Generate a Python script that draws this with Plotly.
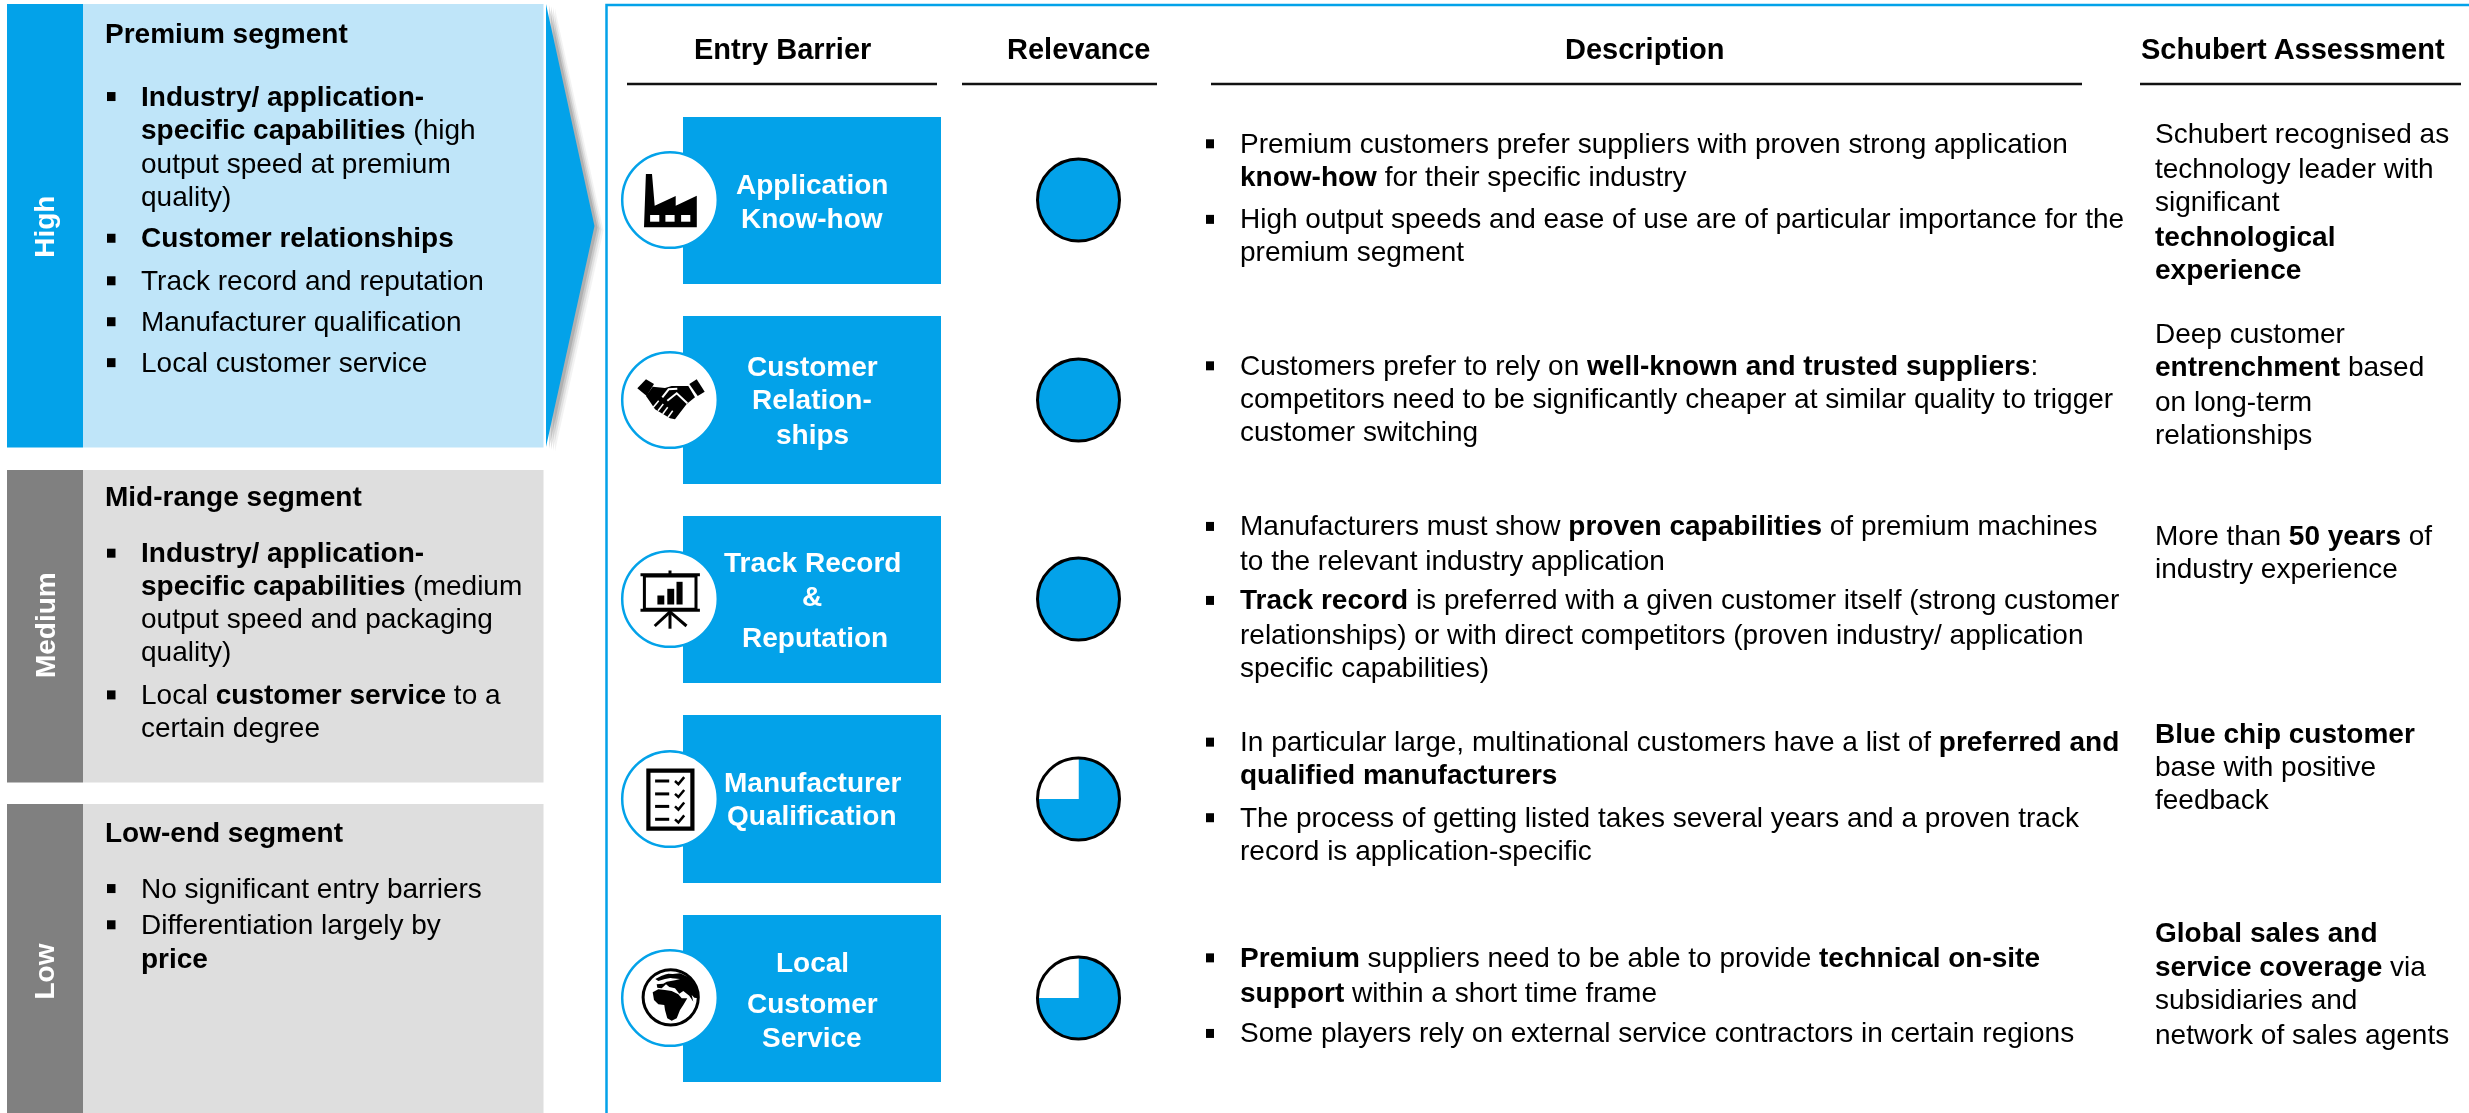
import plotly.graph_objects as go

W, H = 2469, 1113
BLUE = "#03A2E9"
LIGHT = "#BFE5F9"
TAB_GREY = "#808080"
GREY = "#DEDEDE"
FONT = "Liberation Sans"
S = 1.5746  # positions below were read on the 1568-wide view

# ---------- data ----------
barriers = ["Application Know-how", "Customer Relationships", "Track Record & Reputation",
            "Manufacturer Qualification", "Local Customer Service"]
relevance = [100, 100, 100, 75, 75]
headers = ["Entry Barrier", "Relevance", "Description", "Schubert Assessment"]
levels = ["High", "Medium", "Low"]
panel_text = [
    "<b>Premium segment</b>",
    "<b>Industry/ application-</b>", "<b>specific capabilities</b> (high", "output speed at premium", "quality)",
    "<b>Customer relationships</b>", "Track record and reputation", "Manufacturer qualification",
    "Local customer service",
    "<b>Mid-range segment</b>",
    "<b>Industry/ application-</b>", "<b>specific capabilities</b> (medium", "output speed and packaging", "quality)",
    "Local <b>customer service</b> to a", "certain degree",
    "<b>Low-end segment</b>",
    "No significant entry barriers", "Differentiation largely by", "<b>price</b>",
]
box_text = ["Application", "Know-how", "Customer", "Relation-", "ships", "Track Record", "&", "Reputation",
            "Manufacturer", "Qualification", "Local", "Customer", "Service"]
description_text = [
    "Premium customers prefer suppliers with proven strong application",
    "<b>know-how</b> for their specific industry",
    "High output speeds and ease of use are of particular importance for the",
    "premium segment",
    "Customers prefer to rely on <b>well-known and trusted suppliers</b>:",
    "competitors need to be significantly cheaper at similar quality to trigger",
    "customer switching",
    "Manufacturers must show <b>proven capabilities</b> of premium machines",
    "to the relevant industry application",
    "<b>Track record</b> is preferred with a given customer itself (strong customer",
    "relationships) or with direct competitors (proven industry/ application",
    "specific capabilities)",
    "In particular large, multinational customers have a list of <b>preferred and</b>",
    "<b>qualified manufacturers</b>",
    "The process of getting listed takes several years and a proven track",
    "record is application-specific",
    "<b>Premium</b> suppliers need to be able to provide <b>technical on-site</b>",
    "<b>support</b> within a short time frame",
    "Some players rely on external service contractors in certain regions",
]
assessment_text = [
    "Schubert recognised as", "technology leader with", "significant", "<b>technological</b>", "<b>experience</b>",
    "Deep customer", "<b>entrenchment</b> based", "on long-term", "relationships",
    "More than <b>50 years</b> of", "industry experience",
    "<b>Blue chip customer</b>", "base with positive", "feedback",
    "<b>Global sales and</b>", "<b>service coverage</b> via", "subsidiaries and", "network of sales agents",
]

# ---------- layout positions ----------
panel_y = [21, 61, 82, 104, 125, 151, 178, 204, 230, 315, 351, 372, 393, 414, 441, 462, 529, 564, 587, 609]
panel_head = {0, 9, 16}
panel_bullets = [61, 151, 178, 204, 230, 351, 441, 564, 587]
box_y = [117, 139, 233, 254, 276, 357, 379, 405, 497, 518, 611, 637, 659]
box_dx = [0, 0, 0, 0, 0, 0, 0, 3, 0, 0, 0, 0, 0]
desc_y = [91, 112, 139, 160, 232, 253, 274, 334, 356, 381, 403, 424, 471, 492, 519, 540, 608, 630, 656]
desc_bullets = [91, 139, 232, 334, 381, 471, 519, 608, 656]
assess_y = [85, 107, 128, 150, 171, 212, 233, 255, 276, 340, 361, 466, 487, 508, 592, 614, 635, 657]
box_top = [117, 316, 516, 715, 915]
box_bot = [284, 484, 683, 883, 1082]
row_cy = [200, 400, 599, 799, 998]
ICON_X, ICON_R, PIE_X, PIE_R = 670, 47.8, 1078.5, 41

shapes, ann = [], []


def rect(x0, y0, x1, y1, fill, line=None, lw=0, layer="below"):
    shapes.append(dict(type="rect", xref="x", yref="y", x0=x0, y0=y0, x1=x1, y1=y1, fillcolor=fill,
                       line=dict(color=line or fill, width=lw), layer=layer))


def circle(cx, cy, r, fill, line, lw, layer="below"):
    shapes.append(dict(type="circle", xref="x", yref="y", x0=cx - r, y0=cy - r, x1=cx + r, y1=cy + r,
                       fillcolor=fill, line=dict(color=line, width=lw), layer=layer))


def poly(pts, fill, line=None, lw=0, opacity=1, closed=True, layer="below"):
    d = "M " + " L ".join(f"{x:.1f} {y:.1f}" for x, y in pts) + (" Z" if closed else "")
    shapes.append(dict(type="path", xref="x", yref="y", path=d, fillcolor=fill if closed else "rgba(0,0,0,0)",
                       line=dict(color=line or fill, width=lw), opacity=opacity, layer=layer))


def text(x, y, t, size, color="#000000", anchor="left", angle=0):
    ann.append(dict(x=x, y=y, xref="x", yref="y", text=t, showarrow=False, xanchor=anchor, yanchor="middle",
                    align=anchor, textangle=angle, font=dict(family=FONT, size=size, color=color)))


# left panels
panels = [(4, 447.5, BLUE, LIGHT), (470, 782.5, TAB_GREY, GREY), (804, 1113, TAB_GREY, GREY)]
for top, bot, tab, body in panels:
    rect(7, top, 83, bot, tab)
    rect(83, top, 543.5, bot, body)
for lab, y in zip(levels, [144 * S, 397 * S, 617 * S]):
    text(45, y, f"<b>{lab}</b>", 28, "#FFFFFF", "center", -90)

# chevron with soft shadow
chev = [(546, 4), (594.5, 226), (546, 447)]
for off, op in [(9, 0.08), (7, 0.12), (5, 0.18), (3, 0.24)]:
    poly([(x + off, y + off * 0.5) for x, y in chev], "#606060", opacity=op)
poly(chev, BLUE)

# frame
poly([(606.5, 1113), (606.5, 5), (2469, 5)], None, BLUE, 2.5, closed=False)

# headers
hdr_lines = [(627, 937), (962, 1157), (1211, 2082), (2140, 2461)]
hdr_x = [497 * S, 685 * S, 1045 * S, 1456 * S]
for (a, b), x, h in zip(hdr_lines, hdr_x, headers):
    poly([(a, 84), (b, 84)], None, "#111111", 2.5, closed=False)
    text(x, 48.5, f"<b>{h}</b>", 29, anchor="center")

# panel text
for i, (t, y) in enumerate(zip(panel_text, panel_y)):
    text(102.5 if i in panel_head else 138.5, y * S, t, 28)
for y in panel_bullets:
    rect(107, y * S - 4, 115.5, y * S + 5, "#000000")

# entry barrier boxes
for top, bot in zip(box_top, box_bot):
    rect(683, top, 941, bot, BLUE)
for t, y, dx in zip(box_text, box_y, box_dx):
    text(812 + dx, y * S, f"<b>{t}</b>", 28, "#FFFFFF", "center")

# description and assessment text
for t, y in zip(description_text, desc_y):
    text(1237.5, y * S, t, 28)
for y in desc_bullets:
    rect(1206, y * S - 4, 1214, y * S + 5, "#000000")
for t, y in zip(assessment_text, assess_y):
    text(2152.5, y * S, t, 28)

# icon discs
for cy in row_cy:
    circle(ICON_X, cy, ICON_R, "#FFFFFF", BLUE, 2.5)


def local(cx, cy, zx, zy, sx=2.613, sy=3.0):
    """Return a mapper from zoom-view icon drawing units to page pixels."""
    return lambda pts: [(cx + (x - zx) / sx, cy + (y - zy) / sy) for x, y in pts]


# factory
m = local(ICON_X, row_cy[0], 185, 600)
poly(m([(122, 522), (138, 522), (145, 617), (200, 588), (200, 617), (255, 587), (255, 682), (117, 682)]), "#000000")
for a in [133, 173, 214]:
    poly(m([(a, 645), (a + 24, 645), (a + 24, 665), (a, 665)]), "#FFFFFF")

# handshake
m = local(630, 360, 0, 0, 3, 3)
poly(m([(22, 85), (48, 58), (72, 72), (50, 108)]), "#000000")
poly(m([(178, 72), (200, 58), (224, 95), (203, 108)]), "#000000")
poly(m([(68, 80), (105, 84), (125, 78), (175, 78), (195, 112), (170, 132), (135, 178), (120, 175), (75, 148),
        (62, 128), (48, 108)]), "#000000")
poly(m([(97, 112), (116, 88), (142, 86)]), None, "#FFFFFF", 2, closed=False)
poly(m([(112, 122), (140, 100), (172, 130)]), None, "#FFFFFF", 2, closed=False)
for a, b, c, d in [(86, 122, 70, 142), (100, 132, 84, 152), (113, 142, 98, 162), (128, 152, 114, 172)]:
    poly(m([(a, b), (c, d)]), None, "#FFFFFF", 1.5, closed=False)

# presentation board
m = local(ICON_X, row_cy[2], 185, 254, 2.613, 2.558)
poly(m([(118, 195), (253, 195), (253, 280), (118, 280)]), "#FFFFFF", "#000000", 3)
poly(m([(108, 192), (263, 192)]), None, "#000000", 3, closed=False)
poly(m([(108, 283), (263, 283)]), None, "#000000", 3, closed=False)
poly(m([(185, 181), (185, 192)]), None, "#000000", 3, closed=False)
poly(m([(185, 283), (185, 330)]), None, "#000000", 3, closed=False)
poly(m([(185, 287), (145, 323)]), None, "#000000", 3, closed=False)
poly(m([(185, 287), (228, 323)]), None, "#000000", 3, closed=False)
for a, b, c in [(152, 170, 245), (178, 196, 228), (202, 218, 210)]:
    poly(m([(a, c), (b, c), (b, 268), (a, 268)]), "#000000")

# checklist
m = local(ICON_X, row_cy[3], 185, 764, 2.613, 2.558)
poly(m([(123, 686), (249, 686), (249, 845), (123, 845)]), "#000000")
poly(m([(134, 697), (238, 697), (238, 834), (134, 834)]), "#FFFFFF")
for y in [718, 751, 783, 816]:
    poly(m([(146, y), (183, y)]), None, "#000000", 3, closed=False)
    poly(m([(198, y), (207, y + 8), (222, y - 10)]), None, "#000000", 2.5, closed=False)

# globe
m = local(630, 955, 0, 0, 3, 3)
circle(670.7, 997.3, 27.6, "#FFFFFF", "#000000", 3)
poly(m([(68, 112), (85, 103), (105, 105), (125, 108), (145, 118), (155, 130), (172, 130), (160, 150), (150, 165),
        (140, 190), (125, 197), (112, 190), (105, 165), (103, 150), (85, 148), (72, 135)]), "#000000")
poly(m([(100, 60), (150, 55), (180, 68), (200, 100), (206, 130), (193, 128), (185, 120), (190, 140), (178, 122),
        (160, 108), (148, 116), (135, 100), (118, 96), (108, 88), (95, 100), (82, 98), (80, 88), (100, 86), (110, 80),
        (135, 76), (150, 72), (125, 70)]), "#000000")
poly(m([(95, 62), (115, 56), (140, 58), (125, 68), (105, 72), (85, 78), (76, 72)]), "#000000")

# relevance pies: drawn by the library from the relevance values
fig = go.Figure()
fig.add_trace(go.Scatter(x=[0, W], y=[0, H], mode="markers", opacity=0, hoverinfo="skip", showlegend=False))
for v, cy in zip(relevance, row_cy):
    fig.add_trace(go.Pie(values=[v, 100 - v], sort=False, direction="clockwise", rotation=0,
                         marker=dict(colors=[BLUE, "#FFFFFF"], line=dict(width=0)),
                         textinfo="none", hoverinfo="skip", showlegend=False,
                         domain=dict(x=[(PIE_X - PIE_R) / W, (PIE_X + PIE_R) / W],
                                     y=[1 - (cy + PIE_R) / H, 1 - (cy - PIE_R) / H])))
    circle(PIE_X, cy, PIE_R, "rgba(0,0,0,0)", "#000000", 3, layer="above")

fig.update_layout(width=W, height=H, margin=dict(l=0, r=0, t=0, b=0), paper_bgcolor="#FFFFFF",
                  plot_bgcolor="#FFFFFF", shapes=shapes, annotations=ann, showlegend=False,
                  xaxis=dict(range=[0, W], visible=False, fixedrange=True),
                  yaxis=dict(range=[H, 0], visible=False, fixedrange=True))
fig.write_html("out.html", config=dict(displayModeBar=False),
               post_script="document.body.style.margin='0';document.documentElement.style.overflow='hidden';")
